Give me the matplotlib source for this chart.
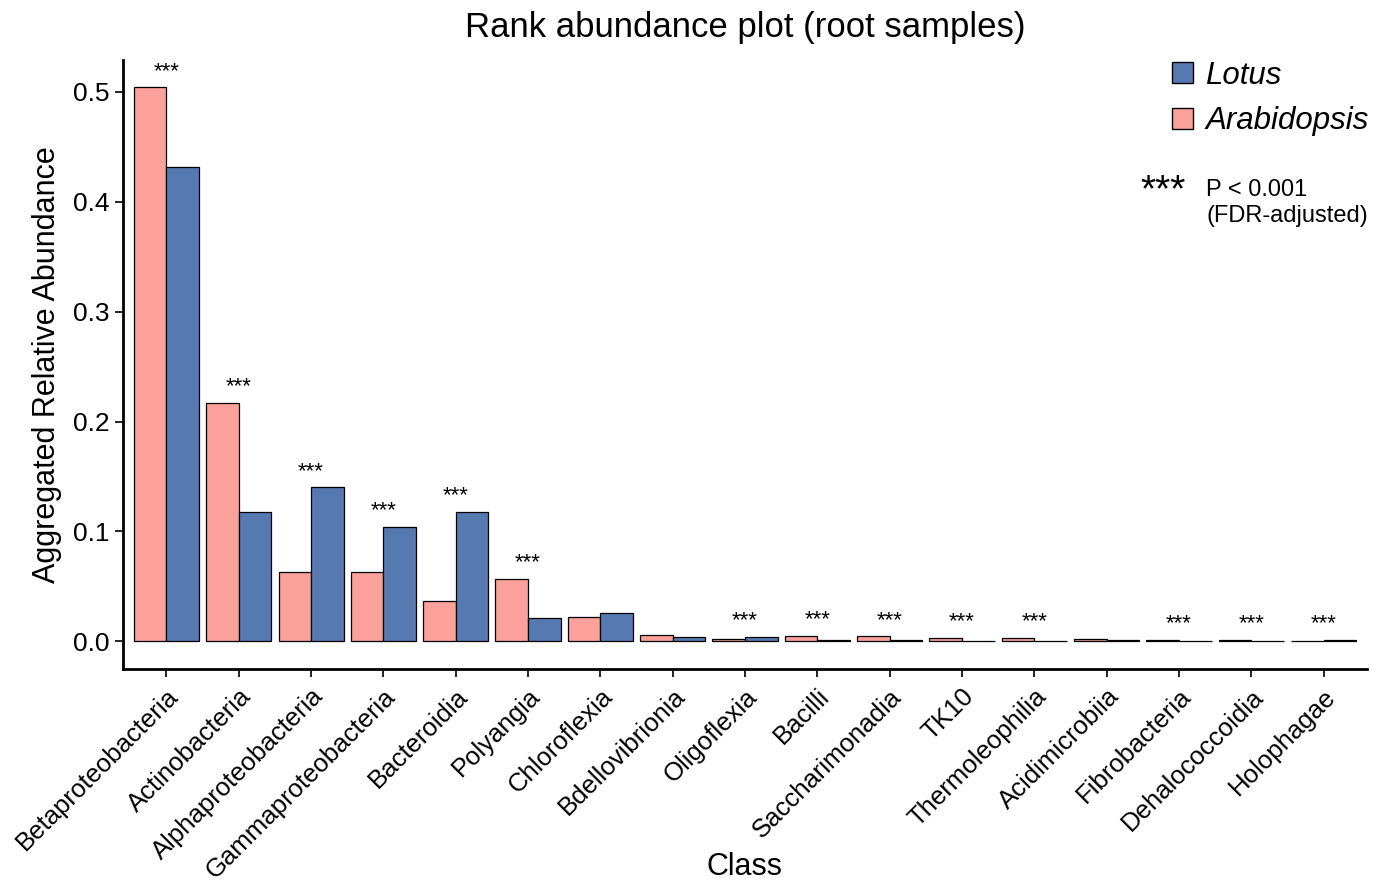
import numpy as np
import matplotlib.pyplot as plt
from matplotlib.patches import Patch

plt.rcParams['font.family'] = ['Liberation Sans', 'DejaVu Sans']

classes = ['Betaproteobacteria', 'Actinobacteria', 'Alphaproteobacteria',
           'Gammaproteobacteria', 'Bacteroidia', 'Polyangia', 'Chloroflexia',
           'Bdellovibrionia', 'Oligoflexia', 'Bacilli', 'Saccharimonadia',
           'TK10', 'Thermoleophilia', 'Acidimicrobiia', 'Fibrobacteria',
           'Dehalococcoidia', 'Holophagae']
arabidopsis = [0.504, 0.217, 0.063, 0.063, 0.037, 0.057, 0.022,
               0.0055, 0.0025, 0.005, 0.0045, 0.0033, 0.0033,
               0.0022, 0.0015, 0.0014, 0.0006]
lotus = [0.432, 0.118, 0.140, 0.104, 0.118, 0.021, 0.026,
         0.004, 0.004, 0.001, 0.0008, 0.0007, 0.0006,
         0.0008, 0.0006, 0.0005, 0.0012]
significant = [True, True, True, True, True, True, False,
               False, True, True, True, True, True,
               False, True, True, True]

pink = '#F9A19A'
blue = '#5679B2'

fig = plt.figure(figsize=(13.78, 8.83), dpi=100)
ax = fig.add_axes([123 / 1378, 1 - 669 / 883, (1367 - 123) / 1378, (669 - 60) / 883])

x = np.arange(len(classes))
w = 0.45
ax.bar(x - w / 2, arabidopsis, w, color=pink, edgecolor='black', linewidth=0.9)
ax.bar(x + w / 2, lotus, w, color=blue, edgecolor='black', linewidth=0.9)

# stars above the taller bar of each pair
for i, sig in enumerate(significant):
    if sig:
        top = max(arabidopsis[i], lotus[i])
        ax.text(x[i], top + 0.005, '***', ha='center', va='bottom', fontsize=16)

ax.set_xlim(-0.6, len(classes) - 0.4)
ax.set_ylim(-0.0252, 0.529)
ax.set_yticks([0, 0.1, 0.2, 0.3, 0.4, 0.5])
ax.set_yticklabels(['0.0', '0.1', '0.2', '0.3', '0.4', '0.5'], fontsize=19)
ax.set_xticks(x)
ax.set_xticklabels(classes, rotation=45, ha='right', va='top',
                   rotation_mode='anchor', fontsize=18.5)
ax.tick_params(axis='both', length=6, width=1.2, color='black')
ax.tick_params(axis='x', pad=5)

for s in ['top', 'right']:
    ax.spines[s].set_visible(False)
for s in ['left', 'bottom']:
    ax.spines[s].set_linewidth(2)

ax.set_ylabel('Aggregated Relative Abundance', fontsize=22, labelpad=8)
fig.text(745 / 1378, 1 - 867 / 883, 'Class', ha='center', va='center',
         fontsize=22)
fig.text(745 / 1378, 1 - 28 / 883, 'Rank abundance plot (root samples)',
         ha='center', va='center', fontsize=25)

handles = [Patch(facecolor=blue, edgecolor='black', linewidth=1),
           Patch(facecolor=pink, edgecolor='black', linewidth=1)]
leg = fig.legend(handles, ['Lotus', 'Arabidopsis'], loc='upper right',
                 bbox_to_anchor=(1381 / 1378, 1 - 48 / 883), frameon=False,
                 prop={'style': 'italic', 'size': 22.5}, handlelength=0.65,
                 handleheight=0.65, handletextpad=0.4, labelspacing=0.5,
                 borderaxespad=0)

fig.text(1163 / 1378, 1 - 191 / 883, '***', ha='center', va='center',
         fontsize=28)
fig.text(1206 / 1378, 1 - 203 / 883, 'P < 0.001\n(FDR-adjusted)',
         ha='left', va='center', fontsize=17, linespacing=1.25)

fig.savefig('out.png', dpi=100)
